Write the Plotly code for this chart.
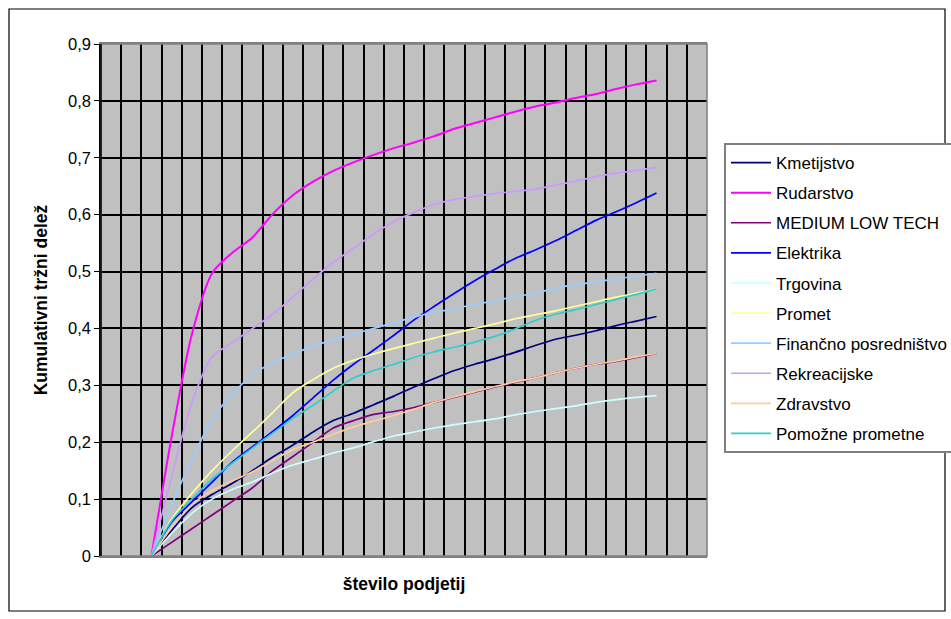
import plotly.graph_objects as go

# Cumulative market share by number of firms, per sector
n_categories = 30
firm_index = list(range(3, 29))  # category positions that carry data

series_names = [
    "Kmetijstvo", "Rudarstvo", "MEDIUM LOW TECH", "Elektrika", "Trgovina",
    "Promet", "Finančno posredništvo", "Rekreacijske", "Zdravstvo", "Pomožne prometne",
]

kmetijstvo = [0, 0.045, 0.085, 0.108, 0.128, 0.15, 0.174, 0.195, 0.218, 0.238, 0.251, 0.266, 0.281,
              0.297, 0.312, 0.326, 0.337, 0.347, 0.358, 0.37, 0.381, 0.388, 0.396, 0.405, 0.413, 0.421]
rudarstvo = [0, 0.21, 0.39, 0.497, 0.533, 0.56, 0.601, 0.634, 0.658, 0.677, 0.692, 0.705, 0.717,
             0.727, 0.738, 0.751, 0.761, 0.771, 0.781, 0.79, 0.797, 0.805, 0.812, 0.821, 0.829, 0.836]
medium_low_tech = [0, 0.024, 0.048, 0.072, 0.096, 0.12, 0.15, 0.175, 0.2, 0.225, 0.238, 0.249, 0.254,
                   0.261, 0.27, 0.279, 0.288, 0.297, 0.305, 0.313, 0.322, 0.33, 0.337, 0.342, 0.349, 0.356]
elektrika = [0, 0.06, 0.095, 0.13, 0.165, 0.192, 0.219, 0.247, 0.278, 0.309, 0.337, 0.362, 0.388,
             0.415, 0.439, 0.462, 0.484, 0.504, 0.523, 0.538, 0.554, 0.572, 0.59, 0.605, 0.621, 0.638]
trgovina = [0, 0.04, 0.075, 0.1, 0.117, 0.13, 0.146, 0.16, 0.17, 0.181, 0.19, 0.201, 0.211,
            0.218, 0.225, 0.231, 0.236, 0.241, 0.248, 0.254, 0.259, 0.264, 0.27, 0.275, 0.279, 0.282]
promet = [0, 0.065, 0.11, 0.15, 0.185, 0.218, 0.252, 0.287, 0.31, 0.33, 0.344, 0.355, 0.365,
          0.374, 0.383, 0.392, 0.4, 0.408, 0.417, 0.424, 0.431, 0.439, 0.447, 0.455, 0.462, 0.469]
financno = [0, 0.09, 0.17, 0.24, 0.285, 0.318, 0.34, 0.355, 0.369, 0.38, 0.39, 0.4, 0.41,
            0.42, 0.428, 0.435, 0.442, 0.449, 0.456, 0.462, 0.471, 0.477, 0.482, 0.487, 0.492, 0.497]
rekreacijske = [0, 0.14, 0.27, 0.35, 0.375, 0.4, 0.425, 0.455, 0.487, 0.516, 0.541, 0.566, 0.588,
                0.604, 0.618, 0.627, 0.632, 0.637, 0.641, 0.645, 0.652, 0.659, 0.667, 0.673, 0.678, 0.683]
zdravstvo = [0, 0.05, 0.09, 0.115, 0.132, 0.148, 0.168, 0.187, 0.2, 0.214, 0.227, 0.237, 0.247,
             0.258, 0.27, 0.28, 0.289, 0.298, 0.306, 0.313, 0.322, 0.33, 0.337, 0.343, 0.35, 0.356]
pomozne = [0, 0.062, 0.1, 0.135, 0.163, 0.19, 0.216, 0.242, 0.265, 0.29, 0.313, 0.326, 0.337,
           0.349, 0.359, 0.367, 0.376, 0.386, 0.399, 0.414, 0.425, 0.433, 0.442, 0.451, 0.46, 0.469]

series_values = [kmetijstvo, rudarstvo, medium_low_tech, elektrika, trgovina,
                 promet, financno, rekreacijske, zdravstvo, pomozne]
series_colors = ["#000080", "#FF00FF", "#800080", "#0000FF", "#CCFFFF",
                 "#FFFF99", "#99CCFF", "#CC99FF", "#FFCC99", "#33CCCC"]
y_ticks = [0, 0.1, 0.2, 0.3, 0.4, 0.5, 0.6, 0.7, 0.8, 0.9]

FONT = "Liberation Sans, Arial, sans-serif"
FS = 16.5

fig = go.Figure()
for name, vals, col in zip(series_names, series_values, series_colors):
    fig.add_trace(go.Scatter(
        x=firm_index, y=vals, name=name, mode="lines",
        line=dict(color=col, width=2 if name == "Rudarstvo" else 1.7, shape="spline", smoothing=0.8),
        legendgroup=name,
    ))

W, H = 951, 619
L, R, T, B = 101, 244, 44, 63
pw, ph = W - L - R, H - T - B

def px_x(x):
    return (x - L) / pw

def px_y(y):
    return (H - B - y) / ph

fig.update_layout(
    width=W, height=H,
    margin=dict(l=L, r=R, t=T, b=B, pad=0, autoexpand=False),
    paper_bgcolor="white",
    plot_bgcolor="#C0C0C0",
    separators=",.",
    font=dict(family=FONT, size=FS, color="black"),
    showlegend=True,
    legend=dict(
        x=px_x(724), y=px_y(143), xanchor="left", yanchor="top",
        bgcolor="white", bordercolor="#808080", borderwidth=2,
        font=dict(family=FONT, size=17, color="black"),
        tracegroupgap=5, itemwidth=40,
    ),
    xaxis=dict(
        range=[0.5, n_categories + 0.5], tick0=0.5, dtick=1,
        showticklabels=False, ticks="",
        showgrid=True, gridcolor="black", gridwidth=1.6,
        showline=True, linecolor="#808080", linewidth=1.5, mirror=True,
        zeroline=False,
        title=dict(text="<b>število podjetij</b>", font=dict(family=FONT, size=17.5), standoff=21),
    ),
    yaxis=dict(
        range=[0, 0.9], tickvals=y_ticks,
        ticks="outside", ticklen=5, tickcolor="black", tickwidth=1,
        showgrid=True, gridcolor="black", gridwidth=1.6,
        showline=True, linecolor="black", linewidth=1.5,
        zeroline=False,
        tickfont=dict(family=FONT, size=FS),
        title=dict(text="<b>Kumulativni tržni delež</b>", font=dict(family=FONT, size=17.5), standoff=16),
    ),
    shapes=[
        dict(type="rect", xref="paper", yref="paper", layer="below",
             x0=px_x(9), x1=px_x(945), y0=px_y(611), y1=px_y(9),
             line=dict(color="black", width=1.2), fillcolor="rgba(0,0,0,0)"),
        dict(type="rect", xref="paper", yref="paper", layer="above",
             x0=0, x1=1, y0=0, y1=1, line=dict(color="#808080", width=1.5)),
        dict(type="line", xref="paper", yref="paper", layer="above",
             x0=0, x1=0, y0=0, y1=1, line=dict(color="black", width=1.5)),
    ],
)

fig.write_html("out.html")
